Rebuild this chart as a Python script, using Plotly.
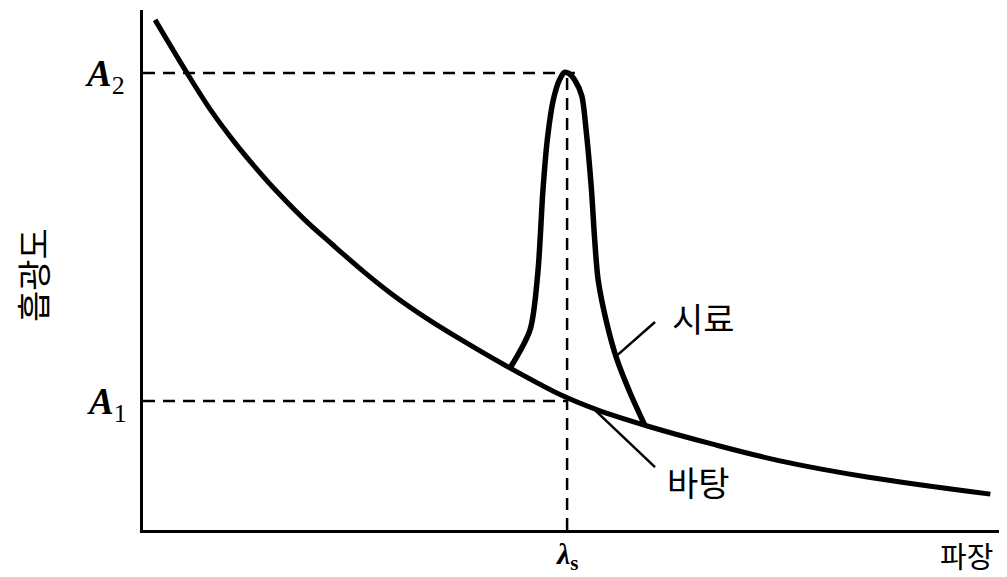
import plotly.graph_objects as go

# background (바탕) absorbance curve
bg_x = [1.4, 5.1, 8.0, 10.7, 13.0, 15.7, 18.8, 21.9, 25.8, 29.0, 33.0, 36.8, 42.2, 48.7, 52.7, 58.5, 66.1, 73.9, 84.0, 98.3]
bg_y = [98.1, 87.9, 80.4, 74.4, 69.8, 64.8, 59.6, 55.0, 49.4, 45.2, 40.6, 36.7, 31.5, 25.8, 23.1, 20.0, 16.5, 13.3, 10.2, 6.9]

# sample (시료) peak sitting on the background
pk_x = [42.6, 44.9, 45.8, 46.4, 46.9, 47.6, 48.3, 48.9, 49.4, 50.1, 50.9, 51.4, 52.0, 52.4, 52.8, 53.8, 55.0, 56.5, 58.2]
pk_y = [31.2, 38.5, 49.4, 65.4, 75.0, 82.7, 86.5, 88.0, 87.8, 86.5, 83.5, 77.0, 66.0, 55.8, 48.1, 39.8, 32.7, 26.4, 20.2]

lambda_s = 49.2
A1 = 24.8
A2 = 87.9

# label leader lines
sample_lead_x = [54.8, 59.4]
sample_lead_y = [33.3, 40.0]
blank_lead_x = [52.4, 59.4]
blank_lead_y = [23.1, 12.1]

KR = "Noto Sans CJK KR"
SERIF = "Liberation Serif"

fig = go.Figure()

dash = dict(color="black", width=2.5, dash="12px,8px")
fig.add_trace(go.Scatter(x=[0, 50.1], y=[A2, A2], mode="lines", line=dash))
fig.add_trace(go.Scatter(x=[0, lambda_s], y=[A1, A1], mode="lines", line=dash))
fig.add_trace(go.Scatter(x=[lambda_s, lambda_s], y=[0, A2], mode="lines", line=dash))

fig.add_trace(go.Scatter(x=bg_x, y=bg_y, mode="lines",
                         line=dict(color="black", width=5, shape="spline", smoothing=1.0)))
fig.add_trace(go.Scatter(x=pk_x, y=pk_y, mode="lines",
                         line=dict(color="black", width=5.5, shape="spline", smoothing=0.8)))

fig.add_trace(go.Scatter(x=sample_lead_x, y=sample_lead_y, mode="lines", line=dict(color="black", width=2.5)))
fig.add_trace(go.Scatter(x=blank_lead_x, y=blank_lead_y, mode="lines", line=dict(color="black", width=2.5)))

# labels outside the plot area go in paper coords (annotations outside axis range get hidden)
ann = [
    dict(x=-0.044, y=0.873, xref="paper", yref="paper", text="<b><i>A</i></b><sub>2</sub>",
         font=dict(family=SERIF, size=37)),
    dict(x=-0.042, y=0.242, xref="paper", yref="paper", text="<b><i>A</i></b><sub>1</sub>",
         font=dict(family=SERIF, size=37)),
    dict(x=0.492, y=-0.05, xref="paper", yref="paper", text="<b><i>λ</i><sub>s</sub></b>",
         font=dict(family=SERIF, size=30)),
    dict(x=0.955, y=-0.048, xref="paper", yref="paper", text="파장", font=dict(family=KR, size=29)),
    dict(x=-0.129, y=0.49, xref="paper", yref="paper", text="흡광도", textangle=-90,
         font=dict(family=KR, size=34)),
    dict(x=65.0, y=40.9, xref="x", yref="y", text="시료", font=dict(family=KR, size=34)),
    dict(x=64.5, y=9.4, xref="x", yref="y", text="바탕", font=dict(family=KR, size=34)),
]
for a in ann:
    a.update(showarrow=False, xanchor="center", yanchor="middle")
    a["font"]["color"] = "black"

# page body has an 8px margin, so the figure is shrunk and shifted to compensate
fig.update_layout(
    width=999, height=569,
    margin=dict(l=135, r=2, t=2, b=47),
    paper_bgcolor="white", plot_bgcolor="white",
    showlegend=False,
    annotations=ann,
    xaxis=dict(range=[0, 100], showline=True, linecolor="black", linewidth=3,
               showgrid=False, zeroline=False, showticklabels=False, ticks=""),
    yaxis=dict(range=[0, 100], showline=True, linecolor="black", linewidth=3,
               showgrid=False, zeroline=False, showticklabels=False, ticks=""),
)

fig.write_html("out.html")
